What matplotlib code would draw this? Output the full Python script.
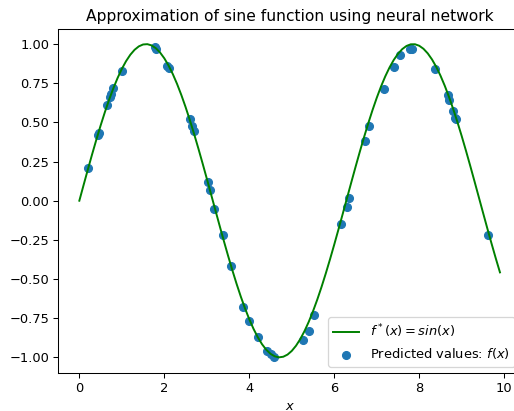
import numpy as np
import matplotlib
matplotlib.use("Agg")
import matplotlib.pyplot as plt

# ==============================
# Data
# ==============================
# true function is sin(x) on a 0.1 grid
x_line = np.arange(0, 10, 0.1)
y_line = np.sin(x_line)

# network predictions at the test points
pred_x = [0.21, 0.43, 0.46, 0.64, 0.72, 0.75, 0.80, 1.00, 1.77, 1.80,
          2.07, 2.11, 2.60, 2.64, 2.70, 3.03, 3.07, 3.18, 3.38, 3.57,
          3.85, 4.00, 4.20, 4.42, 4.51, 4.59, 5.26, 5.40, 5.52, 6.17,
          6.29, 6.35, 6.72, 6.82, 7.17, 7.40, 7.55, 7.78, 7.84, 8.37,
          8.67, 8.71, 8.79, 8.84, 8.86, 9.62]
pred_y = [0.21, 0.42, 0.43, 0.61, 0.66, 0.68, 0.72, 0.83, 0.98, 0.97,
          0.86, 0.85, 0.52, 0.48, 0.445, 0.12, 0.07, -0.05, -0.22, -0.42,
          -0.68, -0.77, -0.87, -0.96, -0.98, -1.00, -0.89, -0.83, -0.73, -0.15,
          -0.04, 0.02, 0.38, 0.48, 0.715, 0.855, 0.93, 0.97, 0.97, 0.84,
          0.675, 0.64, 0.575, 0.53, 0.52, -0.22]

# ==============================
# Plot
# ==============================
dpi = 93.3
fig = plt.figure(figsize=(514 / dpi, 411 / dpi), dpi=dpi)
ax = fig.add_axes([58.3 / 514, 1 - 373 / 411, (521 - 58.3) / 514, (373 - 28.5) / 411])

ax.plot(x_line, y_line, color="green", label=r"$f^*(x) = sin(x)$")
ax.scatter(pred_x, pred_y, label="Predicted values: $f(x)$")
ax.set_title("Approximation of sine function using neural network")
ax.set_xlabel("$x$")
ax.legend(loc="lower right")

fig.savefig("out.png", dpi=dpi)
